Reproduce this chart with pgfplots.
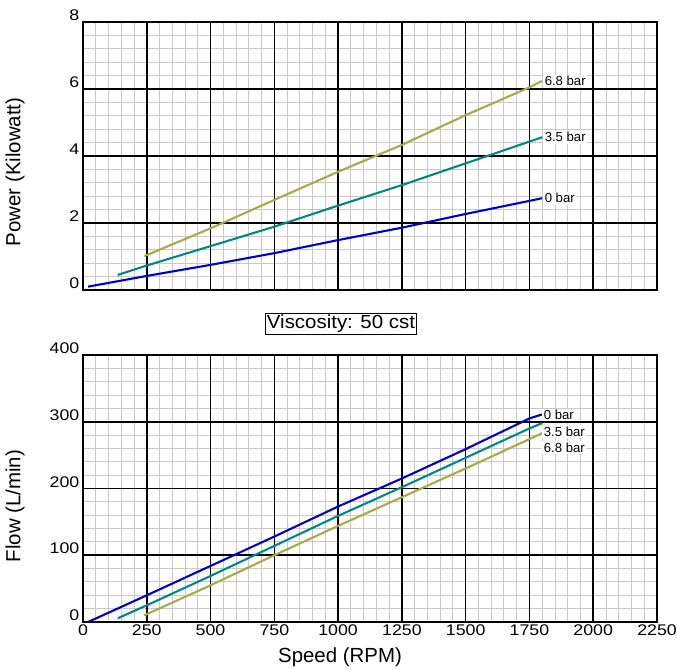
\documentclass[border=0pt]{standalone}
\usepackage{pgfplots}
\pgfplotsset{compat=1.18}
\usepackage{fontspec}
\setmainfont{Liberation Sans}
\definecolor{lblue}{RGB}{0,0,204}
\definecolor{lteal}{RGB}{0,136,136}
\definecolor{lolive}{RGB}{170,170,68}
\definecolor{mgray}{RGB}{200,200,200}
\tikzset{lbl/.style={anchor=west, fill=white, text=black, inner sep=1.5bp, font=\fontsize{13.2}{15}\selectfont}}
\pgfplotsset{
  base/.style={
    scale only axis, width=574bp, anchor=south west,
    xmin=0, xmax=2250,
    xtick={0,250,...,2250},
    tick style={draw=none},
  },
  minoraxis/.style={
    base,
    minor x tick num=4, minor y tick num=4,
    grid=minor,
    minor grid style={mgray, line width=0.9bp},
    axis line style={draw=none},
    xticklabels={}, yticklabels={},
  },
  myaxis/.style={
    base,
    grid=major,
    major grid style={black, line width=1.6bp},
    axis line style={black, line width=1.8bp},
    /pgf/number format/assume math mode=true,
    /pgf/number format/1000 sep={},
    tick label style={font=\fontsize{15.5}{18}\selectfont, xscale=1.15},
    yticklabel style={anchor=south east, inner sep=1bp, xshift=-2bp},
    xticklabel style={anchor=north, inner sep=1.5bp, yshift=-1bp},
    every axis plot/.append style={line width=2.1bp, no markers},
  }
}
\begin{document}
\begin{tikzpicture}
\useasboundingbox (0,0) rectangle (677bp,670bp);
% Top: power
\begin{axis}[minoraxis, at={(83bp,380bp)}, height=268bp, ymin=0, ymax=8, ytick={0,2,4,6,8}]
\end{axis}
\begin{axis}[myaxis, at={(83bp,380bp)}, height=268bp,
  ymin=0, ymax=8, ytick={0,2,4,6,8}, xticklabels={}]
\addplot[lblue] coordinates {(20,0.10)(250,0.42)(500,0.75)(750,1.10)(1000,1.49)(1250,1.86)(1500,2.27)(1750,2.66)(1800,2.74)}
  node[lbl, pos=1] {0 bar};
\addplot[lteal] coordinates {(136,0.45)(250,0.73)(500,1.31)(750,1.89)(1000,2.52)(1250,3.13)(1500,3.78)(1750,4.43)(1800,4.56)}
  node[lbl, pos=1] {3.5 bar};
\addplot[lolive] coordinates {(240,1.01)(500,1.84)(750,2.69)(1000,3.53)(1250,4.33)(1500,5.22)(1750,6.05)(1800,6.24)}
  node[lbl, pos=1] {6.8 bar};
\end{axis}
% Bottom: flow
\begin{axis}[minoraxis, at={(83bp,48bp)}, height=267bp, ymin=0, ymax=400, ytick={0,100,200,300,400}]
\end{axis}
\begin{axis}[myaxis, at={(83bp,48bp)}, height=267bp,
  ymin=0, ymax=400, ytick={0,100,200,300,400}]
\addplot[lblue] coordinates {(20,0)(250,40)(500,84)(750,128)(1000,173)(1250,215)(1500,259)(1750,305)(1800,311)};
\addplot[lteal] coordinates {(136,5.5)(250,25)(500,69)(750,114)(1000,159)(1250,202)(1500,246)(1750,290)(1800,298)};
\addplot[lolive] coordinates {(240,10)(500,55)(750,100)(1000,144)(1250,187)(1500,230)(1750,274)(1800,283)};
\node[lbl] at (axis cs:1800,310) {0 bar};
\node[lbl] at (axis cs:1800,285) {3.5 bar};
\node[lbl] at (axis cs:1800,261) {6.8 bar};
\end{axis}
\node[rotate=90, font=\fontsize{20.5}{24}\selectfont] at (15bp,498bp) {Power (Kilowatt)};
\node[rotate=90, font=\fontsize{20.5}{24}\selectfont] at (15bp,164bp) {Flow (L/min)};
\node[font=\fontsize{20.5}{24}\selectfont] at (340bp,13bp) {Speed (RPM)};
\node[draw=black, line width=0.6bp, inner sep=1.5bp, fill=white, font=\fontsize{19}{22}\selectfont, xscale=1.08] at (341bp,346bp) {Viscosity: 50 cst};
\end{tikzpicture}
\end{document}
